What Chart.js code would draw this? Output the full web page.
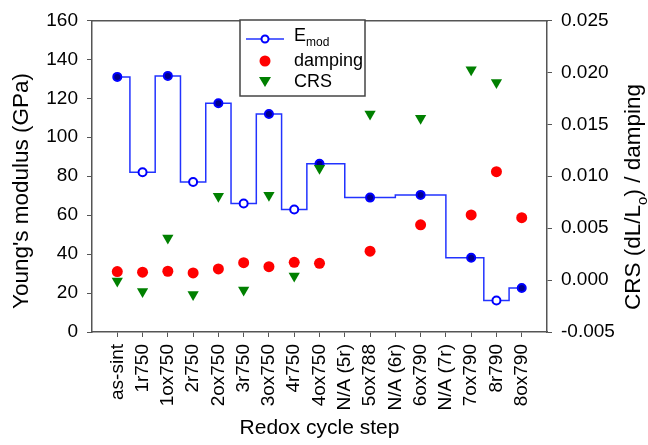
<!DOCTYPE html>
<html>
<head>
<meta charset="utf-8">
<script src="https://cdn.jsdelivr.net/npm/chart.js@4"></script>
<style>
  html, body { margin: 0; padding: 0; background: #fff; }
  #wrap { width: 648px; height: 445px; position: relative; }
</style>
</head>
<body>
<div id="wrap"><canvas id="chart"></canvas></div>
<script>
const steps = ['as-sint', '1r750', '1ox750', '2r750', '2ox750', '3r750', '3ox750', '4r750', '4ox750',
    'N/A (5r)', '5ox788', 'N/A (6r)', '6ox790', 'N/A (7r)', '7ox790', '8r790', '8ox790'];

// Young's modulus (GPa), left axis
const emod = [131.0, 82.0, 131.5, 77.0, 117.5, 66.0, 111.9, 62.9, 86.4,
    null, 69.0, null, 70.4, null, 38.1, 16.2, 22.6];

// right axis values
const damping = [0.00082, 0.00076, 0.00085, 0.00069, 0.00107, 0.00167, 0.00129, 0.00171, 0.00161,
    null, 0.00278, null, 0.00532, null, 0.00627, 0.01044, 0.00601];
const crs = [-0.0001, -0.00111, 0.00404, -0.0014, 0.00807, -0.00095, 0.00817, 0.00038, 0.01076,
    null, 0.01598, null, 0.01557, null, 0.02025, 0.01901, null];

const leftTicks = { min: 0, max: 160, step: 20 };
const rightTicks = { min: -0.005, max: 0.025, step: 0.005 };

const FONT = 'Liberation Sans, Arial, sans-serif';
const AXIS_COLOR = '#555';

const toPoints = arr => arr.map((v, i) => ({ x: i, y: v }));
const isReduced = name => /^\dr/.test(name);

// text pieces: [text, isSubscript]
function drawPieces(ctx, pieces, size, x, y, rotate) {
    ctx.save();
    ctx.translate(x, y);
    if (rotate) ctx.rotate(-Math.PI / 2);
    ctx.textBaseline = 'middle';
    ctx.textAlign = 'left';
    const subSize = Math.round(size * 0.65);
    let total = 0;
    const widths = pieces.map(([t, sub]) => {
        ctx.font = (sub ? subSize : size) + 'px ' + FONT;
        const w = ctx.measureText(t).width;
        total += w;
        return w;
    });
    let cx = rotate ? -total / 2 : 0;
    ctx.fillStyle = '#000';
    pieces.forEach(([t, sub], i) => {
        ctx.font = (sub ? subSize : size) + 'px ' + FONT;
        ctx.fillText(t, cx, sub ? size * 0.38 : 0);
        cx += widths[i];
    });
    ctx.restore();
}

// legend and vertical axis titles drawn by hand (subscripts, bottom-to-top text)
const annotations = {
    id: 'annotations',
    afterDraw(chart) {
        const ctx = chart.ctx;
        const x0 = 240, y0 = 20, w = 125, h = 76;
        ctx.save();
        ctx.fillStyle = '#fff';
        ctx.fillRect(x0, y0, w, h);
        ctx.strokeStyle = '#444';
        ctx.lineWidth = 1.5;
        ctx.strokeRect(x0, y0, w, h);

        const mx = 265, tx = 294;
        const rows = [39, 61, 82];

        ctx.strokeStyle = '#2233ff';
        ctx.lineWidth = 1.5;
        ctx.beginPath();
        ctx.moveTo(246, rows[0]);
        ctx.lineTo(284, rows[0]);
        ctx.stroke();
        ctx.fillStyle = '#fff';
        ctx.strokeStyle = '#0000ff';
        ctx.lineWidth = 2;
        ctx.beginPath();
        ctx.arc(mx, rows[0], 3.5, 0, Math.PI * 2);
        ctx.fill();
        ctx.stroke();

        ctx.fillStyle = '#ff0000';
        ctx.beginPath();
        ctx.arc(mx, rows[1], 5.5, 0, Math.PI * 2);
        ctx.fill();

        ctx.fillStyle = '#008000';
        ctx.beginPath();
        ctx.moveTo(mx - 6, rows[2] - 5);
        ctx.lineTo(mx + 6, rows[2] - 5);
        ctx.lineTo(mx, rows[2] + 5);
        ctx.closePath();
        ctx.fill();
        ctx.restore();

        drawPieces(ctx, [['E', false], ['mod', true]], 18, tx, rows[0] - 3, false);
        drawPieces(ctx, [['damping', false]], 18, tx, rows[1], false);
        drawPieces(ctx, [['CRS', false]], 18, tx, rows[2], false);

        drawPieces(ctx, [["Young's modulus (GPa)", false]], 22.5, 22, 191, true);
        drawPieces(ctx, [['CRS (dL/L', false], ['o', true], [') / damping', false]], 22.5, 634, 197, true);
    }
};

new Chart(document.getElementById('chart'), {
    type: 'scatter',
    data: {
        datasets: [
            {
                label: 'Emod',
                data: toPoints(emod),
                yAxisID: 'y',
                showLine: true,
                stepped: 'middle',
                spanGaps: true,
                borderColor: '#2233ff',
                borderWidth: 1.5,
                pointRadius: 4,
                pointBorderWidth: 2,
                pointBorderColor: '#0000ff',
                pointBackgroundColor: ctx => isReduced(steps[ctx.dataIndex]) ? '#ffffff' : '#000090',
                order: 2
            },
            {
                label: 'damping',
                data: toPoints(damping),
                yAxisID: 'y1',
                showLine: false,
                pointStyle: 'circle',
                pointRadius: 5.5,
                pointBorderWidth: 0,
                pointBackgroundColor: '#ff0000',
                order: 1
            },
            {
                label: 'CRS',
                data: toPoints(crs),
                yAxisID: 'y1',
                showLine: false,
                pointStyle: 'triangle',
                rotation: 180,
                pointRadius: 6.5,
                pointBorderWidth: 0,
                pointBackgroundColor: '#008000',
                order: 0
            }
        ]
    },
    options: {
        responsive: true,
        maintainAspectRatio: false,
        animation: false,
        layout: { padding: 0 },
        plugins: {
            legend: { display: false },
            tooltip: { enabled: false }
        },
        scales: {
            x: {
                type: 'linear',
                position: 'bottom',
                min: -1,
                max: steps.length,
                afterFit: s => { s.height = 113; },
                ticks: {
                    stepSize: 1,
                    autoSkip: false,
                    maxRotation: 90,
                    minRotation: 90,
                    padding: 7,
                    color: '#000',
                    font: { family: FONT, size: 19 },
                    callback: v => steps[v] ?? ''
                },
                grid: {
                    drawOnChartArea: false,
                    tickLength: 5,
                    color: ctx => (ctx.tick && ctx.tick.value >= 0 && ctx.tick.value < steps.length) ? AXIS_COLOR : 'rgba(0,0,0,0)'
                },
                border: { display: true, color: AXIS_COLOR, width: 1.5 },
                title: {
                    display: true,
                    text: 'Redox cycle step',
                    color: '#000',
                    font: { family: FONT, size: 21, lineHeight: 1.2 }
                }
            },
            xTop: {
                type: 'linear',
                position: 'top',
                min: -1,
                max: steps.length,
                afterFit: s => { s.height = 16; },
                ticks: { display: false },
                grid: { display: false },
                border: { display: true, color: AXIS_COLOR, width: 1.5 }
            },
            y: {
                type: 'linear',
                position: 'left',
                min: leftTicks.min,
                max: leftTicks.max,
                afterFit: s => { s.width = 92; },
                ticks: {
                    stepSize: leftTicks.step,
                    padding: 9,
                    color: '#000',
                    font: { family: FONT, size: 19 }
                },
                grid: { drawOnChartArea: false, tickLength: 5, color: AXIS_COLOR },
                border: { display: true, color: AXIS_COLOR, width: 1.5 }
            },
            y1: {
                type: 'linear',
                position: 'right',
                min: rightTicks.min,
                max: rightTicks.max,
                afterFit: s => { s.width = 101; },
                ticks: {
                    stepSize: rightTicks.step,
                    padding: 9,
                    color: '#000',
                    font: { family: FONT, size: 19 },
                    callback: v => v.toFixed(3)
                },
                grid: { drawOnChartArea: false, tickLength: 5, color: AXIS_COLOR },
                border: { display: true, color: AXIS_COLOR, width: 1.5 }
            }
        }
    },
    plugins: [annotations]
});
</script>
</body>
</html>
